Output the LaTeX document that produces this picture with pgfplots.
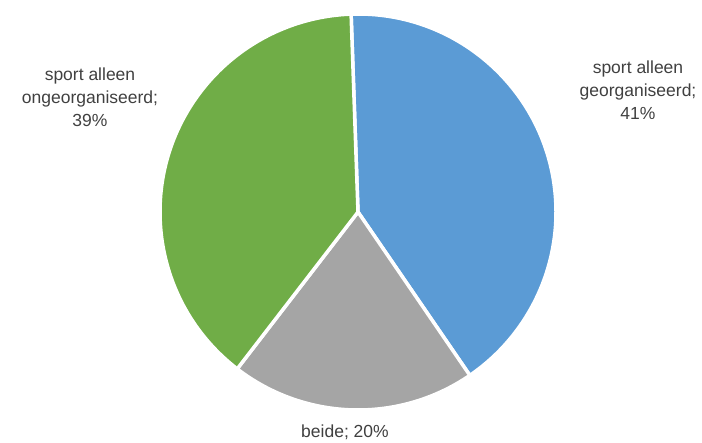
\documentclass[border=0pt]{standalone}
\usepackage{pgfplots}
\usepackage{pgfplotstable}
\pgfplotsset{compat=1.18}
\usepackage{fontspec}
\setmainfont{Liberation Sans}
\definecolor{pieblue}{HTML}{5B9BD5}
\definecolor{piegray}{HTML}{A5A5A5}
\definecolor{piegreen}{HTML}{70AD47}
\definecolor{labelgray}{HTML}{404040}

\pgfplotstableread{
label value color
geo 41 pieblue
beide 20 piegray
ongeo 39 piegreen
}\piedata

\begin{document}
\begin{tikzpicture}
\begin{axis}[hide axis, scale only axis, width=702pt, height=442pt,
  xmin=0, xmax=702, ymin=0, ymax=442, clip=false]
\xdef\angstart{92}
\pgfplotsinvokeforeach{0,1,2}{
  \pgfplotstablegetelem{#1}{value}\of\piedata \let\v\pgfplotsretval
  \pgfplotstablegetelem{#1}{color}\of\piedata \let\c\pgfplotsretval
  \pgfmathsetmacro\aend{\angstart-3.6*\v}
  \edef\temp{\noexpand\fill[\c, draw=white, line width=3.5pt, line join=round] (axis cs:358,230) -- ++(\angstart:198pt) arc[start angle=\angstart, end angle=\aend, radius=198pt] -- cycle;}
  \temp
  \xdef\angstart{\aend}
}
\path (axis cs:0,0) rectangle (axis cs:702,442);
\node[align=center, text=labelgray, font=\fontsize{17.5}{23}\selectfont] at (axis cs:90,345) {sport alleen\\ongeorganiseerd;\\39\%};
\node[align=center, text=labelgray, font=\fontsize{17.5}{23}\selectfont] at (axis cs:638,352) {sport alleen\\georganiseerd;\\41\%};
\node[align=center, text=labelgray, font=\fontsize{17.5}{23}\selectfont] at (axis cs:345,10) {beide; 20\%};
\end{axis}
\end{tikzpicture}
\end{document}
